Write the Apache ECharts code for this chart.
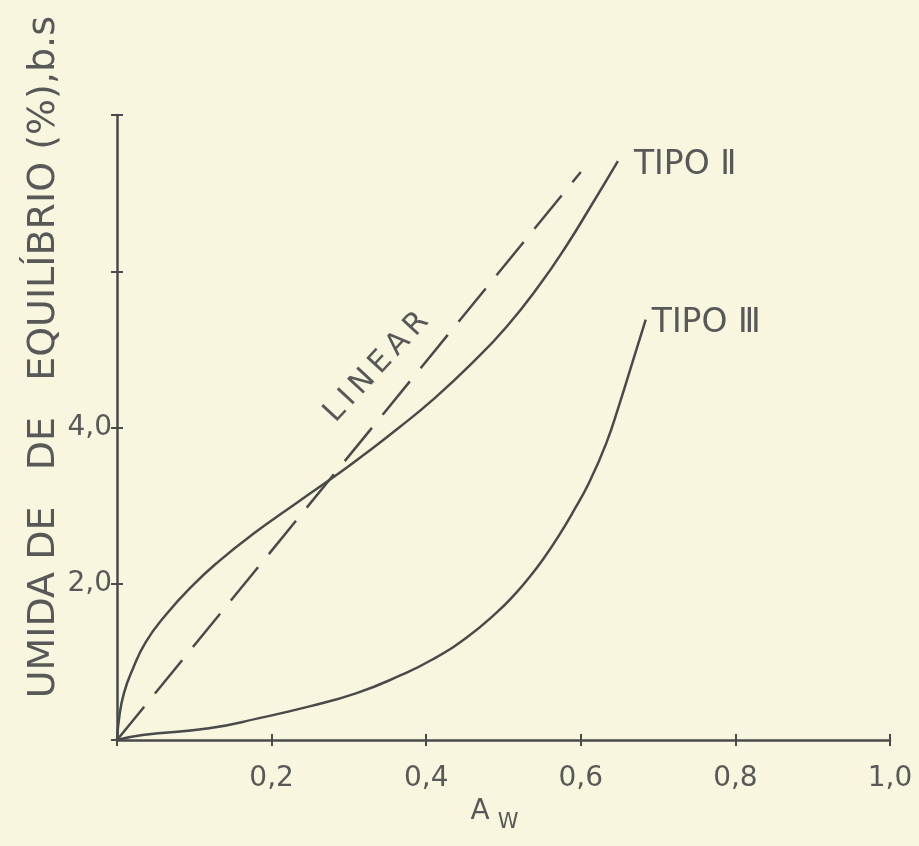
<!DOCTYPE html>
<html><head><meta charset="utf-8">
<script src="https://cdn.jsdelivr.net/npm/echarts@6/dist/echarts.min.js"></script>
<style>html,body{margin:0;padding:0;background:#f8f6de}#c{width:919px;height:846px}</style>
</head><body><div id="c"></div>
<script>
// ---- data ----
const linearData = [[0, 0], [0.6, 7.27]];
const tipo2Data = [[0,0],[0.003,0.3],[0.009,0.6],[0.02,0.9],[0.037,1.25],[0.063,1.6],[0.098,1.98],[0.132,2.29],[0.175,2.63],[0.236,3.06],[0.288,3.42],[0.322,3.67],[0.365,4.0],[0.408,4.35],[0.46,4.83],[0.504,5.29],[0.547,5.83],[0.581,6.32],[0.611,6.8],[0.648,7.41]];
const tipo3Data = [[0,0],[0.033,0.065],[0.119,0.15],[0.184,0.28],[0.249,0.43],[0.31,0.6],[0.365,0.82],[0.408,1.03],[0.452,1.31],[0.491,1.63],[0.516,1.88],[0.534,2.09],[0.551,2.31],[0.57,2.59],[0.59,2.92],[0.611,3.3],[0.633,3.8],[0.65,4.3],[0.667,4.84],[0.684,5.38]];
const seriesNames = ['LINEAR', 'TIPO \u2161', 'TIPO \u2162'];
const xTickValues = [0.2, 0.4, 0.6, 0.8, 1.0];
const xTickLabels = ['0,2', '0,4', '0,6', '0,8', '1,0'];
const yTickValues = [2, 4];
const yTickLabels = ['2,0', '4,0'];
const xTitle = ['A', 'W'];
const yTitle = 'UMIDA DE   DE   EQUIL\u00cdBRIO (%),b.s';
const linearLabel = 'L\u2009I\u2009N\u2009E\u2009A\u2009R';

// ---- chart ----
const ink = '#4a4a4a';
const txt = '#585858';
const font = 'DejaVu Sans';
function pick(vals, labels, v) {
  const i = vals.findIndex(t => Math.abs(t - v) < 1e-6);
  return i >= 0 ? labels[i] : '';
}
const chart = echarts.init(document.getElementById('c'));
const axisLine = { show: true, lineStyle: { color: ink, width: 2.5 } };
const tick = { show: true, length: 6, lineStyle: { color: ink, width: 2 } };
chart.setOption({
  backgroundColor: '#f8f6de',
  animation: false,
  grid: { left: 117, right: 29, top: 115, bottom: 106, containLabel: false },
  xAxis: [
    { type: 'value', min: 0, max: 1, interval: 0.2, position: 'bottom',
      axisLine, axisTick: tick, splitLine: { show: false },
      axisLabel: { formatter: v => pick(xTickValues, xTickLabels, v), fontSize: 28, color: txt, fontFamily: font, margin: 25 },
      name: '{a|' + xTitle[0] + '}{w|' + xTitle[1] + '}', nameLocation: 'middle', nameGap: 52,
      nameTextStyle: { padding: [0, 18, 0, 0], rich: {
        a: { fontSize: 28, fontFamily: font, color: txt, lineHeight: 34, verticalAlign: 'top' },
        w: { fontSize: 21, fontFamily: font, color: txt, lineHeight: 34, padding: [14, 0, 0, 8], verticalAlign: 'top' } } } },
    { type: 'value', min: 0, max: 1, interval: 0.2, position: 'bottom',
      axisLine: { show: false }, axisTick: Object.assign({}, tick, { inside: true }), axisLabel: { show: false }, splitLine: { show: false } }
  ],
  yAxis: [
    { type: 'value', min: 0, max: 8, interval: 2, position: 'left',
      axisLine, axisTick: tick, splitLine: { show: false },
      axisLabel: { formatter: v => pick(yTickValues, yTickLabels, v), fontSize: 28, color: txt, fontFamily: font, margin: 5 } },
    { type: 'value', min: 0, max: 8, interval: 2, position: 'left',
      axisLine: { show: false }, axisTick: Object.assign({}, tick, { inside: true }), axisLabel: { show: false }, splitLine: { show: false } }
  ],
  graphic: [{
    type: 'text', left: 25, top: 16,
    rotation: Math.PI / 2,
    style: { text: yTitle, fontSize: 38, fontFamily: font, fill: txt }
  }],
  series: [
    { name: seriesNames[0], type: 'line', data: linearData, showSymbol: false,
      lineStyle: { color: ink, width: 2.5, type: [43, 17] },
      markPoint: { symbol: 'circle', symbolSize: 1, itemStyle: { color: 'rgba(0,0,0,0)' },
        data: [{ coord: [0.336, 4.77],
          label: { show: true, position: 'inside', formatter: linearLabel, rotate: 47, fontSize: 30, fontFamily: font, color: txt } }] } },
    { name: seriesNames[1], type: 'line', data: tipo2Data, showSymbol: false, smooth: 0.5,
      lineStyle: { color: ink, width: 2.5 },
      endLabel: { show: true, formatter: seriesNames[1], distance: 16, offset: [0, 4], fontSize: 33, fontFamily: font, color: txt } },
    { name: seriesNames[2], type: 'line', data: tipo3Data, showSymbol: false, smooth: 0.5,
      lineStyle: { color: ink, width: 2.5 },
      endLabel: { show: true, formatter: seriesNames[2], distance: 6, offset: [0, 4], fontSize: 33, fontFamily: font, color: txt } }
  ]
});
</script></body></html>
